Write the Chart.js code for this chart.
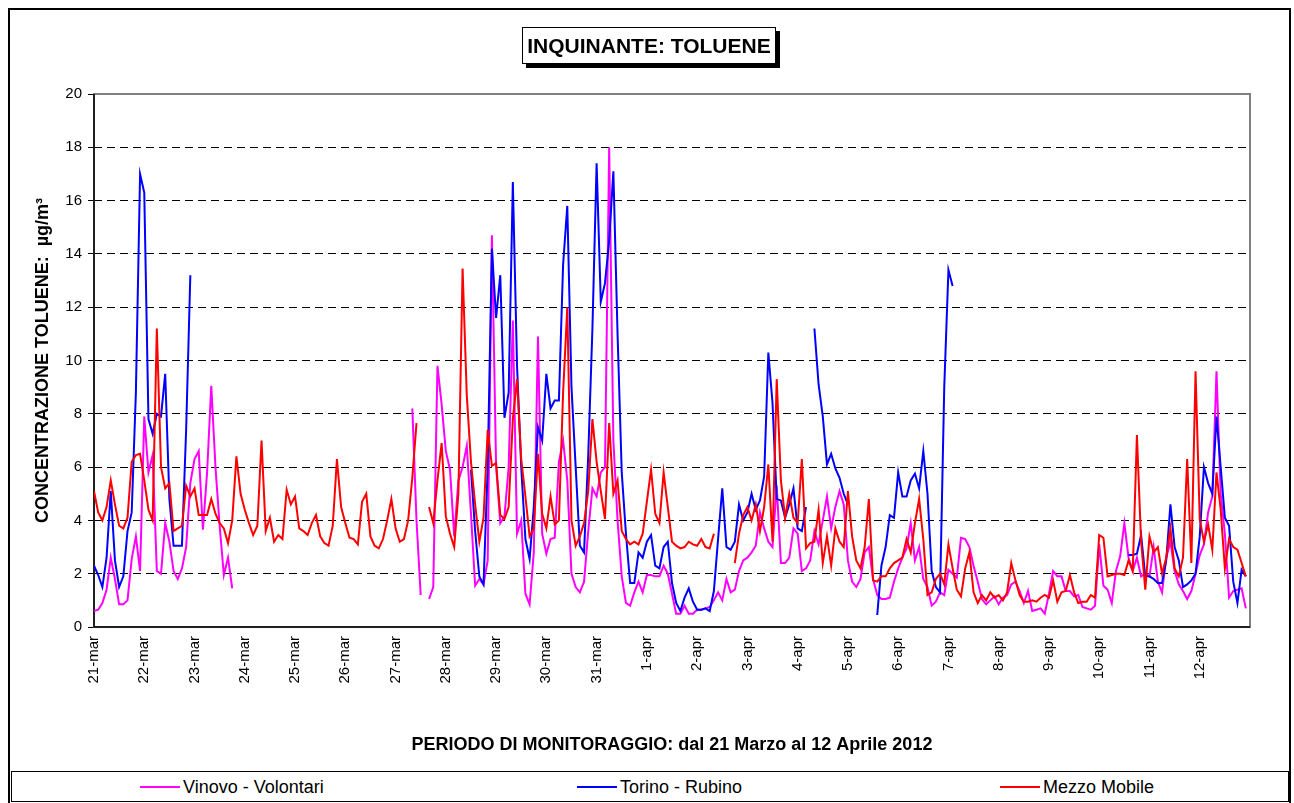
<!DOCTYPE html>
<html>
<head>
<meta charset="utf-8">
<script src="https://cdn.jsdelivr.net/npm/chart.js@4.4.1/dist/chart.umd.min.js"></script>
<style>
  html, body { margin:0; padding:0; background:#fff; }
  body { width:1294px; height:803px; position:relative; overflow:hidden; font-family:"Liberation Sans", Arial, sans-serif; }
  #frame { position:absolute; left:8px; top:8px; width:1279px; height:800px; border:2px solid #000; box-sizing:content-box; }
  #c { position:absolute; left:0; top:0; }
  #title { position:absolute; left:522px; top:27px; width:252px; height:35px; border:1px solid #000; background:#fff;
           box-shadow:4px 4px 0 #000; font-weight:bold; font-size:21px; line-height:35px; text-align:center; white-space:nowrap; }
  #legend { position:absolute; left:11px; top:771px; width:1276px; height:29px; border:1px solid #000; background:#fff; }
  .li { position:absolute; top:0; height:29px; line-height:30px; font-size:18px; white-space:nowrap; }
  .sw { display:inline-block; width:40px; height:2px; vertical-align:middle; margin-right:3px; position:relative; top:-1px; }
</style>
</head>
<body>
<div id="frame"></div>
<canvas id="c" width="1294" height="803"></canvas>
<div id="title">INQUINANTE: TOLUENE</div>
<div id="legend">
  <div class="li" style="left:128px"><span class="sw" style="background:#FF00FF"></span>Vinovo - Volontari</div>
  <div class="li" style="left:565px"><span class="sw" style="background:#0000FF"></span>Torino - Rubino</div>
  <div class="li" style="left:988px"><span class="sw" style="background:#FF0000"></span>Mezzo Mobile</div>
</div>
<script>
// ---- categories (one tick per day) ----
const days = ['21-mar','22-mar','23-mar','24-mar','25-mar','26-mar','27-mar','28-mar','29-mar','30-mar','31-mar',
              '1-apr','2-apr','3-apr','4-apr','5-apr','6-apr','7-apr','8-apr','9-apr','10-apr','11-apr','12-apr'];
const HOURS_PER_STEP = 2;   // one value every 2 hours, 12 per day
const yTicks = [0,2,4,6,8,10,12,14,16,18,20];

// ---- series values (µg/m³), 12 per day ----
const vinovo = [
  0.6,0.65,0.9,1.4,2.6,1.8,0.85,0.85,1.0,2.55,3.4,2.1,
  7.9,5.8,6.45,2.1,2.0,3.9,3.2,2.1,1.8,2.2,3.0,5.4,
  6.3,6.6,3.65,5.8,9.05,6.0,3.8,1.95,2.6,1.45,null,null,
  null,null,null,null,null,null,null,null,null,null,null,null,
  null,null,null,null,null,null,null,null,null,null,null,null,
  null,null,null,null,null,null,null,null,null,null,null,null,
  null,null,null,null,8.2,4.0,1.2,null,1.05,1.5,9.8,8.35,
  6.6,5.9,3.4,5.5,6.0,6.8,4.25,1.55,1.8,1.6,2.5,14.7,
  6.05,3.9,4.15,6.0,11.5,3.5,4.0,1.25,0.85,2.8,10.9,3.5,
  2.75,3.3,3.35,6.2,7.0,5.5,2.0,1.5,1.3,1.7,3.6,5.2,
  4.9,5.8,6.0,18.0,7.0,4.0,1.9,0.9,0.8,1.3,1.7,1.3,
  1.95,1.95,1.9,1.9,2.3,2.0,1.25,0.5,0.5,0.8,0.5,0.5,
  0.65,0.65,0.7,0.75,1.0,1.3,1.0,1.8,1.3,1.4,2.1,2.5,
  2.6,2.8,3.05,4.3,3.7,3.2,3.0,5.3,2.4,2.4,2.6,3.7,
  3.5,2.1,2.2,2.5,3.6,3.1,4.0,4.9,3.7,4.5,5.1,4.6,
  2.5,1.7,1.5,1.8,2.8,3.0,1.8,1.2,1.05,1.05,1.1,1.7,
  2.2,2.6,2.95,3.9,2.5,3.0,1.8,1.5,0.8,0.95,1.3,1.2,
  2.15,2.0,1.85,3.35,3.3,3.0,2.3,1.7,1.05,0.85,1.0,1.15,
  0.85,1.1,1.2,1.6,1.7,1.35,0.9,1.35,0.6,0.65,0.7,0.5,
  1.25,2.1,1.9,1.9,1.35,1.35,1.15,1.2,0.75,0.7,0.65,0.8,
  3.1,1.55,1.4,0.9,2.1,2.65,3.9,2.6,2.1,2.6,1.9,2.0,
  1.9,3.0,1.7,1.3,2.6,3.2,2.1,1.6,1.35,1.05,1.35,2.0,
  2.7,3.1,4.3,4.9,9.6,5.0,3.5,1.1,1.35,1.4,1.45,0.7
];
const torino = [
  2.3,1.95,1.5,2.6,5.1,2.5,1.5,1.9,3.6,4.3,8.8,17.0,
  16.3,7.8,7.25,8.0,7.9,9.5,4.8,3.05,3.05,3.05,7.4,13.2,
  null,null,null,null,null,null,null,null,null,null,null,null,
  null,null,null,null,null,null,null,null,null,null,null,null,
  null,null,null,null,null,null,null,null,null,null,null,null,
  null,null,null,null,null,null,null,null,null,null,null,null,
  null,null,null,null,null,null,null,null,null,null,null,null,
  null,null,null,null,null,null,5.9,3.6,1.9,1.6,6.0,14.2,
  11.6,13.2,7.85,8.8,16.7,9.8,6.0,3.3,2.55,4.5,7.5,7.0,
  9.5,8.2,8.5,8.5,13.6,15.8,9.0,6.0,3.05,2.8,6.45,11.2,
  17.4,12.2,12.9,14.5,17.1,11.0,5.8,3.5,1.65,1.65,2.8,2.6,
  3.2,3.45,2.3,2.2,3.0,3.2,1.65,0.9,0.6,1.1,1.45,0.95,
  0.65,0.65,0.7,0.6,1.35,3.3,5.2,3.0,2.9,3.2,4.6,4.0,
  4.3,5.0,4.4,4.75,5.65,10.3,8.4,4.8,4.75,4.1,4.6,5.2,
  3.7,3.6,4.5,null,11.2,9.1,7.9,6.1,6.5,5.95,5.6,5.0,
  4.6,null,null,null,null,null,null,0.45,2.3,3.0,4.2,4.1,
  5.8,4.9,4.9,5.5,5.75,5.2,6.6,5.0,2.1,1.5,1.3,9.0,
  13.4,12.8,null,null,null,null,null,null,null,null,null,null,
  null,null,null,null,null,null,null,null,null,null,null,null,
  null,null,null,null,null,null,null,null,null,null,null,null,
  null,null,null,null,null,null,null,2.7,2.7,2.75,3.45,1.9,
  1.9,1.8,1.65,1.65,2.5,4.6,3.0,2.5,1.5,1.6,1.75,2.0,
  3.4,6.0,5.4,5.0,7.9,6.0,4.1,3.8,1.7,0.9,2.15,1.9
];
const mezzo = [
  5.1,4.3,4.0,4.5,5.5,4.6,3.8,3.7,4.1,6.2,6.45,6.5,
  5.5,4.4,4.0,11.2,6.0,5.2,5.4,3.6,3.7,3.8,5.3,4.9,
  5.2,4.2,4.2,4.2,4.8,4.25,3.9,3.7,3.15,4.0,6.4,5.0,
  4.4,3.9,3.45,3.8,7.0,3.6,4.1,3.2,3.45,3.3,5.15,4.6,
  4.9,3.7,3.6,3.45,3.9,4.2,3.4,3.15,3.05,3.8,6.3,4.5,
  3.9,3.35,3.3,3.1,4.7,5.0,3.4,3.05,2.95,3.3,4.0,4.8,
  3.7,3.2,3.3,4.0,5.6,7.65,null,null,4.5,3.9,5.5,6.9,
  4.15,3.5,3.0,5.0,13.45,8.7,6.2,4.6,3.2,4.1,7.4,6.05,
  6.15,4.2,4.05,4.5,7.8,9.3,6.3,4.9,3.4,3.7,6.5,4.25,
  3.7,4.9,3.85,4.0,8.8,12.0,4.0,3.05,3.4,3.9,5.1,7.8,
  6.2,5.1,4.05,7.65,5.0,5.5,3.6,3.3,3.1,3.2,3.1,3.5,
  4.7,5.9,4.25,3.9,5.8,4.5,3.2,3.05,2.95,3.0,3.2,3.1,
  3.05,3.3,3.0,2.95,3.5,null,null,null,null,2.4,3.5,4.2,
  4.5,4.0,4.6,3.6,4.5,6.1,3.2,9.3,5.5,4.1,5.0,4.1,
  3.9,6.3,2.95,3.15,3.2,4.4,2.4,3.4,2.3,3.7,3.2,3.0,
  5.1,3.4,2.5,2.2,3.0,4.8,1.75,1.7,1.9,1.9,2.2,2.4,
  2.5,2.6,3.3,2.8,3.9,4.8,3.3,1.2,1.3,1.8,2.0,1.6,
  3.1,2.2,1.4,1.15,2.2,2.8,1.3,0.9,1.2,1.0,1.3,1.1,
  1.2,1.0,1.3,2.4,1.75,1.2,0.95,0.95,1.0,0.95,1.1,1.2,
  1.1,1.75,0.95,1.3,1.35,1.95,1.3,0.9,0.95,0.95,1.2,1.1,
  3.45,3.35,1.9,1.95,2.0,2.0,1.95,2.5,2.1,7.2,3.2,1.4,
  3.4,2.8,3.0,2.0,2.6,3.7,2.2,1.9,2.6,6.3,2.4,9.6,
  4.05,3.2,3.85,2.9,5.8,4.4,2.2,3.3,3.0,2.9,2.4,1.9
];

const FONT = '"Liberation Sans", Arial, sans-serif';
const toPoints = arr => arr.map((v, i) => ({ x: i * HOURS_PER_STEP, y: v }));
const totalHours = days.length * 24;

const frameplugin = {
  id: 'plotFrame',
  beforeDatasetsDraw(chart) {
    const a = chart.chartArea, ctx = chart.ctx;
    ctx.save();
    ctx.strokeStyle = '#808080';
    ctx.lineWidth = 2;
    ctx.strokeRect(a.left, a.top, a.right - a.left, a.bottom - a.top);
    ctx.strokeStyle = '#000';
    ctx.lineWidth = 1.5;
    ctx.beginPath();
    ctx.moveTo(a.left, a.top); ctx.lineTo(a.left, a.bottom); ctx.lineTo(a.right, a.bottom);
    ctx.stroke();
    ctx.restore();
  }
};

new Chart(document.getElementById('c'), {
  type: 'line',
  data: {
    datasets: [
      { label: 'Mezzo Mobile', data: toPoints(mezzo), borderColor: '#FF0000', order: 0 },
      { label: 'Torino - Rubino', data: toPoints(torino), borderColor: '#0000FF', order: 1 },
      { label: 'Vinovo - Volontari', data: toPoints(vinovo), borderColor: '#FF00FF', order: 2 }
    ]
  },
  options: {
    responsive: false,
    animation: false,
    spanGaps: false,
    elements: { point: { radius: 0 }, line: { borderWidth: 2, tension: 0 } },
    layout: { padding: { left: 32, top: 94, right: 44, bottom: 47 } },
    plugins: { legend: { display: false }, title: { display: false }, tooltip: { enabled: false } },
    scales: {
      x: {
        type: 'linear', min: 0, max: totalHours,
        ticks: {
          stepSize: 24, autoSkip: false, maxRotation: 90, minRotation: 90, padding: 9,
          color: '#000', font: { family: FONT, size: 15 },
          callback: v => days[Math.round(v / 24)] || ''
        },
        grid: { display: false, drawTicks: false },
        border: { display: false },
        title: { display: true, text: 'PERIODO DI MONITORAGGIO: dal 21 Marzo al 12 Aprile 2012',
                 color: '#000', font: { family: FONT, size: 18, weight: 'bold' }, padding: 0 },
        afterFit(s) { s.height = 129; s.paddingLeft = 0; s.paddingRight = 0; s.paddingTop = 0; s.paddingBottom = 0; }
      },
      y: {
        min: 0, max: 20,
        afterBuildTicks(s) { s.ticks = yTicks.map(v => ({ value: v })); },
        ticks: { color: '#000', font: { family: FONT, size: 15 }, padding: 6 },
        grid: { color: '#000', lineWidth: 1, drawTicks: true, tickLength: 6, tickColor: '#000', tickBorderDash: [] },
        border: { display: false, dash: [8, 5] },
        title: { display: true, text: 'CONCENTRAZIONE TOLUENE:  µg/m³',
                 color: '#000', font: { family: FONT, size: 18, weight: 'bold' }, padding: 0 },
        afterFit(s) { s.width = 62; s.paddingLeft = 0; s.paddingRight = 0; s.paddingTop = 0; s.paddingBottom = 0; }
      }
    }
  },
  plugins: [frameplugin]
});
</script>
</body>
</html>
